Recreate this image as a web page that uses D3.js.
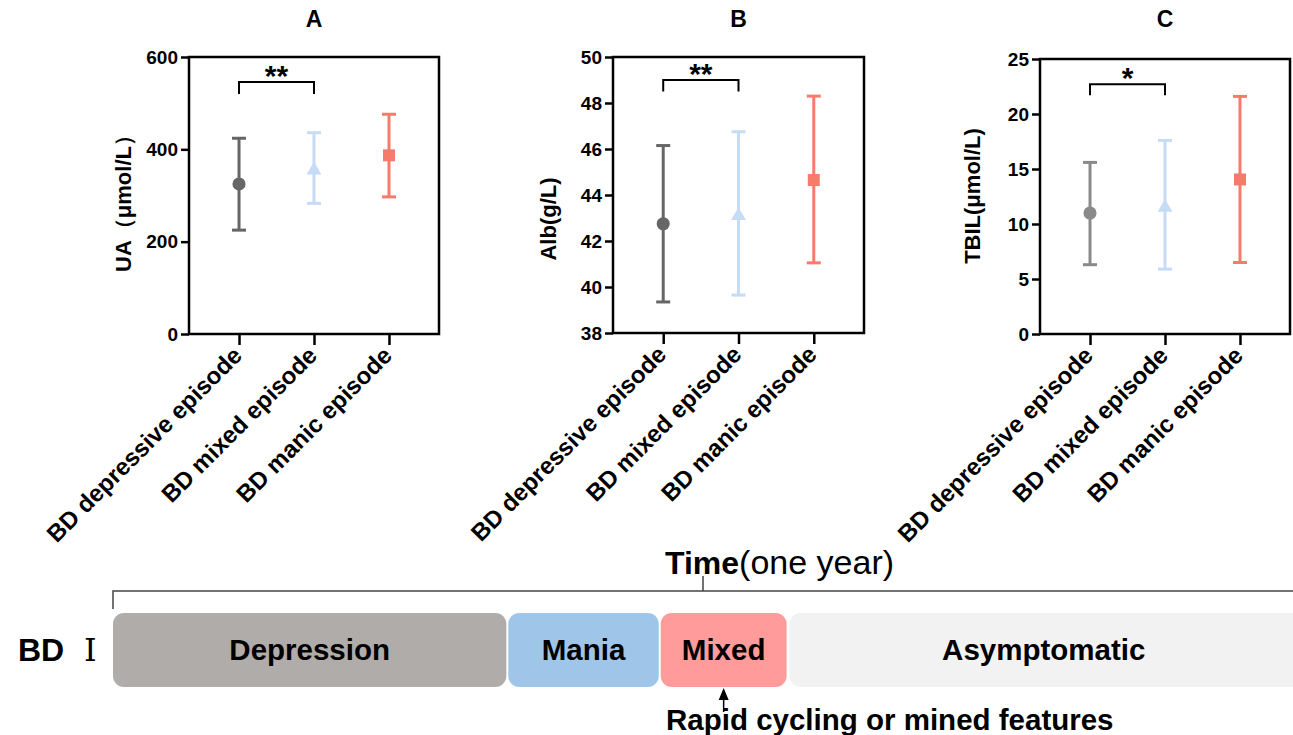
<!DOCTYPE html>
<html>
<head>
<meta charset="utf-8">
<script src="https://cdn.jsdelivr.net/npm/d3@7"></script>
<style>
body { margin: 0; background: #fff; }
svg { display: block; font-family: Arial, "Liberation Sans", sans-serif; }
</style>
</head>
<body>
<svg id="fig" width="1293" height="735"></svg>
<script>
// groups on the x axis
var categories = ["BD depressive episode", "BD mixed episode", "BD manic episode"];

// A: uric acid
var uaMean = [325, 355, 387];
var uaLow = [225, 283, 297];
var uaHigh = [424, 436, 476];
var uaTicks = [0, 200, 400, 600];

// B: albumin
var albMean = [42.75, 43.1, 44.65];
var albLow = [39.35, 39.65, 41.05];
var albHigh = [46.15, 46.75, 48.3];
var albTicks = [38, 40, 42, 44, 46, 48, 50];

// C: total bilirubin
var tbilMean = [11.0, 11.5, 14.05];
var tbilLow = [6.3, 5.9, 6.5];
var tbilHigh = [15.6, 17.6, 21.6];
var tbilTicks = [0, 5, 10, 15, 20, 25];

// significance between depressive and mixed
var sigText = ["**", "**", "*"];
var sigTop = [546, 49.0, 22.7];
var sigBottom = [520, 48.5, 21.7];

// timeline (months of one year)
var phaseNames = ["Depression", "Mania", "Mixed", "Asymptomatic"];
var phaseStart = [0, 4.02, 5.57, 6.88];
var phaseEnd = [4.0, 5.55, 6.85, 12.3];

var svg = d3.select("#fig");

var panels = [
	{title: "A", label: "UA（μmol/L）", mean: uaMean, low: uaLow, high: uaHigh, ticks: uaTicks,
		left: 189, right: 439, top: 57, bottom: 334, labelX: 123, labelY: 198, depColor: "#666666"},
	{title: "B", label: "Alb(g/L)", mean: albMean, low: albLow, high: albHigh, ticks: albTicks,
		left: 613, right: 864, top: 57, bottom: 333, labelX: 548, labelY: 219, depColor: "#666666"},
	{title: "C", label: "TBIL(μmol/L)", mean: tbilMean, low: tbilLow, high: tbilHigh, ticks: tbilTicks,
		left: 1040, right: 1290, top: 59, bottom: 334, labelX: 972, labelY: 196, depColor: "#8a8a8a"}
];

var mixedColor = "#c6dbf5";
var manicColor = "#f67b6b";
var shapes = [d3.symbolCircle, d3.symbolTriangle, d3.symbolSquare];
var shapeSize = [135, 95, 144];

panels.forEach(function(p, k){
	var g = svg.append("g");
	var colors = [p.depColor, mixedColor, manicColor];

	var x = d3.scalePoint()
		.domain(categories)
		.range([p.left, p.right])
		.padding(0.667);

	var y = d3.scaleLinear()
		.domain(d3.extent(p.ticks))
		.range([p.bottom, p.top]);

	// y axis
	var yAxis = g.append("g")
		.attr("transform", "translate(" + p.left + ",0)")
		.call(d3.axisLeft(y).tickValues(p.ticks).tickSize(8).tickPadding(3));
	yAxis.select(".domain").remove();
	yAxis.selectAll("line").attr("stroke", "#000").attr("stroke-width", 2.5);
	yAxis.selectAll("text")
		.attr("fill", "#000")
		.style("font-size", "19px")
		.style("font-weight", "bold")
		.style("font-family", "Arial, 'Liberation Sans', sans-serif");

	// x axis
	var xAxis = g.append("g")
		.attr("transform", "translate(0," + p.bottom + ")")
		.call(d3.axisBottom(x).tickSize(11));
	xAxis.select(".domain").remove();
	xAxis.selectAll("line").attr("stroke", "#000").attr("stroke-width", 2.5);
	xAxis.selectAll("text")
		.attr("fill", "#000")
		.attr("x", 0)
		.attr("y", 0)
		.attr("dy", null)
		.attr("transform", "translate(4,23) rotate(-45)")
		.attr("text-anchor", "end")
		.style("font-size", "24px")
		.style("font-weight", "bold")
		.style("font-family", "Arial, 'Liberation Sans', sans-serif");

	// frame
	g.append("rect")
		.attr("x", p.left)
		.attr("y", p.top)
		.attr("width", p.right - p.left)
		.attr("height", p.bottom - p.top)
		.attr("fill", "none")
		.attr("stroke", "#000")
		.attr("stroke-width", 2.5);

	// title
	g.append("text")
		.attr("x", (p.left + p.right) / 2)
		.attr("y", 27)
		.attr("text-anchor", "middle")
		.style("font-size", "23px")
		.style("font-weight", "bold")
		.text(p.title);

	// y label
	g.append("text")
		.attr("transform", "translate(" + p.labelX + "," + p.labelY + ") rotate(-90)")
		.attr("text-anchor", "middle")
		.attr("dy", "0.36em")
		.style("font-size", "22px")
		.style("font-weight", "bold")
		.text(p.label);

	// error bars
	var bars = g.selectAll(".err")
		.data(categories)
		.enter().append("g")
		.attr("class", "err")
		.attr("stroke", function(d, i){ return colors[i]; })
		.attr("stroke-width", 3);

	bars.append("line")
		.attr("x1", function(d){ return x(d); })
		.attr("x2", function(d){ return x(d); })
		.attr("y1", function(d, i){ return y(p.low[i]); })
		.attr("y2", function(d, i){ return y(p.high[i]); });
	bars.append("line")
		.attr("x1", function(d){ return x(d) - 7; })
		.attr("x2", function(d){ return x(d) + 7; })
		.attr("y1", function(d, i){ return y(p.high[i]); })
		.attr("y2", function(d, i){ return y(p.high[i]); });
	bars.append("line")
		.attr("x1", function(d){ return x(d) - 7; })
		.attr("x2", function(d){ return x(d) + 7; })
		.attr("y1", function(d, i){ return y(p.low[i]); })
		.attr("y2", function(d, i){ return y(p.low[i]); });

	// mean markers
	g.selectAll(".dot")
		.data(categories)
		.enter().append("path")
		.attr("class", "dot")
		.attr("d", function(d, i){ return d3.symbol().type(shapes[i]).size(shapeSize[i])(); })
		.attr("transform", function(d, i){ return "translate(" + x(d) + "," + y(p.mean[i]) + ")"; })
		.attr("fill", function(d, i){ return colors[i]; });

	// significance bracket
	var xa = x(categories[0]), xb = x(categories[1]);
	g.append("path")
		.attr("d", "M" + xa + "," + y(sigBottom[k]) + "V" + y(sigTop[k]) + "H" + xb + "V" + y(sigBottom[k]))
		.attr("fill", "none")
		.attr("stroke", "#000")
		.attr("stroke-width", 2);
	g.append("text")
		.attr("x", (xa + xb) / 2)
		.attr("y", y(sigTop[k]) + 4)
		.attr("text-anchor", "middle")
		.style("font-size", "30px")
		.style("font-weight", "bold")
		.text(sigText[k]);
});

// ---- timeline ----
var t = d3.scaleLinear().domain([0, 12]).range([113, 1293]);
var tl = svg.append("g");

tl.append("path")
	.attr("d", "M" + t(0) + ",609V591H" + t(12.3) + "M" + t(6) + ",591V576")
	.attr("fill", "none")
	.attr("stroke", "#444")
	.attr("stroke-width", 1.5);

var timeText = tl.append("text")
	.attr("x", 665)
	.attr("y", 574);
timeText.append("tspan").style("font-size", "32px").style("font-weight", "bold").text("Time");
timeText.append("tspan").style("font-size", "34px").text("(one year)");

var phaseFill = ["#b0acaa", "#9fc5e8", "#ff9b9b", "#f2f2f2"];

tl.selectAll(".phase")
	.data(phaseNames)
	.enter().append("rect")
	.attr("class", "phase")
	.attr("x", function(d, i){ return t(phaseStart[i]); })
	.attr("width", function(d, i){ return t(phaseEnd[i]) - t(phaseStart[i]); })
	.attr("y", 613)
	.attr("height", 74)
	.attr("rx", 11)
	.attr("fill", function(d, i){ return phaseFill[i]; });

tl.selectAll(".phaseLabel")
	.data(phaseNames)
	.enter().append("text")
	.attr("class", "phaseLabel")
	.attr("x", function(d, i){ return (t(phaseStart[i]) + t(Math.min(phaseEnd[i], 12.05))) / 2; })
	.attr("y", 660)
	.attr("text-anchor", "middle")
	.style("font-size", "29.5px")
	.style("font-weight", "bold")
	.text(function(d){ return d; });

var bd = tl.append("text").attr("x", 18).attr("y", 661);
bd.append("tspan").style("font-size", "32px").style("font-weight", "bold").text("BD");
bd.append("tspan").attr("x", 84).style("font-size", "32px")
	.style("font-family", "'Liberation Serif', 'DejaVu Serif', serif").text("Ⅰ");

// arrow to the mixed phase
var ax = (t(phaseStart[2]) + t(phaseEnd[2])) / 2;
tl.append("line")
	.attr("x1", ax).attr("x2", ax)
	.attr("y1", 698).attr("y2", 712)
	.attr("stroke", "#000")
	.attr("stroke-width", 1.5);
tl.append("path")
	.attr("d", "M" + ax + ",688L" + (ax + 5) + ",700L" + (ax - 5) + ",700Z")
	.attr("fill", "#000");

tl.append("text")
	.attr("x", 666)
	.attr("y", 730)
	.style("font-size", "29.5px")
	.style("font-weight", "bold")
	.text("Rapid cycling or mined features");
</script>
</body>
</html>
